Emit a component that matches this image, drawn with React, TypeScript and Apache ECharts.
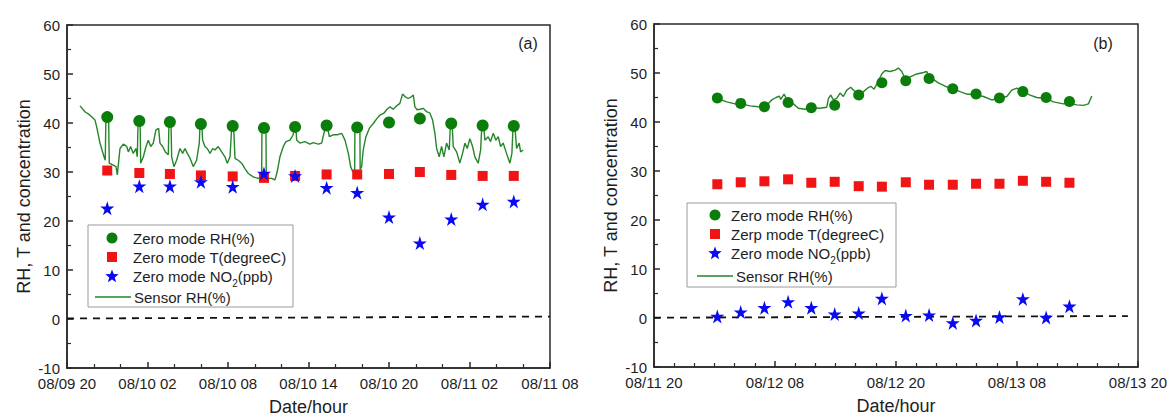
import React, { useEffect, useRef } from "react";
import * as echarts from "echarts";

// ---------- Panel (a): hours since 08/09 20:00 ----------
const leftXLabels = ["08/09 20", "08/10 02", "08/10 08", "08/10 14", "08/10 20", "08/11 02", "08/11 08"];
const leftHours = [3.0, 5.39, 7.67, 9.98, 12.35, 14.68, 17.0, 19.35, 21.63, 24.0, 26.3, 28.64, 30.98, 33.3];
const leftRH = [41.2, 40.4, 40.2, 39.8, 39.4, 39.0, 39.2, 39.5, 39.1, 40.1, 40.9, 39.9, 39.5, 39.4];
const leftT = [30.3, 29.8, 29.6, 29.3, 29.1, 28.8, 29.2, 29.5, 29.5, 29.6, 30.0, 29.4, 29.2, 29.2];
const leftNO2 = [22.6, 27.1, 27.1, 28.0, 27.0, 29.7, 29.2, 26.8, 25.8, 20.8, 15.5, 20.4, 23.4, 24.0];
const leftSensor = [
  [0.97, 43.5], [1.34, 42.3], [1.71, 41.6], [2.09, 40.6], [2.21, 39.2], [2.46, 35.9], [2.76, 33.1], [2.85, 32.4],
  [2.9, 41.2], [3.1, 41.2], [3.15, 31.8],
  [3.45, 31.4], [3.65, 31.1], [3.75, 29.4], [3.95, 34.8], [4.2, 35.7], [4.45, 35.2], [4.57, 34.1], [4.74, 35.2], [4.94, 33.8], [5.14, 34.8], [5.24, 33.1],
  [5.3, 40.4], [5.45, 40.4], [5.49, 31.8],
  [5.69, 33.1], [5.89, 35.2], [6.06, 36.5], [6.24, 35.2], [6.43, 35.9], [6.63, 38.6], [6.83, 38.9], [6.93, 35.9], [7.13, 35.2], [7.33, 34.1], [7.55, 33.5],
  [7.6, 40.2], [7.75, 40.2], [7.8, 33.1],
  [7.97, 31.1], [8.17, 32.4], [8.42, 34.8], [8.62, 33.8], [8.79, 34.8], [8.97, 33.8], [9.17, 32.8], [9.41, 31.1], [9.66, 32.4], [9.86, 35.9],
  [9.92, 39.8], [10.05, 39.8], [10.11, 36.5],
  [10.28, 35.2], [10.45, 34.8], [10.66, 33.8], [10.86, 34.8], [11.03, 34.5], [11.27, 35.2], [11.53, 34.1], [11.77, 33.1], [11.95, 31.8], [12.15, 33.1],
  [12.28, 39.4], [12.42, 39.4], [12.52, 32.8],
  [12.76, 32.4], [13.02, 31.8], [13.26, 30.7], [13.51, 29.7], [13.88, 29.0], [14.25, 28.7], [14.51, 29.0],
  [14.53, 39.0], [14.83, 39.0], [14.85, 28.7],
  [15.25, 28.7], [15.5, 28.4], [15.67, 30.1], [15.87, 33.1], [16.12, 35.2], [16.32, 36.2], [16.62, 36.5], [16.86, 37.6],
  [16.95, 39.2], [17.05, 39.2], [17.12, 36.5],
  [17.36, 35.9], [17.73, 36.2], [18.1, 35.7], [18.35, 36.0], [18.73, 35.7], [18.98, 35.9], [19.15, 37.9],
  [19.28, 39.5], [19.4, 39.5], [19.55, 37.2],
  [19.84, 37.6], [20.14, 37.6], [20.47, 37.9], [20.72, 36.5], [20.97, 33.8], [21.14, 31.1], [21.29, 30.1],
  [21.44, 30.0], [21.46, 39.1], [21.83, 39.1], [21.85, 30.5],
  [21.96, 31.1], [22.08, 34.5], [22.28, 37.2], [22.53, 38.9], [22.83, 39.9], [23.12, 41.0], [23.32, 41.6], [23.62, 42.0], [23.82, 42.7],
  [24.07, 43.3], [24.32, 42.8], [24.57, 43.5], [24.81, 44.0], [25.01, 45.9], [25.19, 45.4], [25.43, 45.0], [25.69, 45.4], [25.81, 45.7],
  [25.93, 43.3], [26.1, 42.7], [26.3, 42.8], [26.55, 43.0], [26.8, 42.3], [27.05, 42.0], [27.25, 40.6], [27.42, 37.9], [27.55, 34.8],
  [27.74, 33.1], [27.92, 35.2], [28.09, 33.1], [28.29, 35.9], [28.49, 34.5],
  [28.58, 39.9], [28.7, 39.9], [28.79, 35.2],
  [29.04, 34.1], [29.28, 31.8], [29.48, 33.8], [29.66, 35.9], [29.83, 34.8], [30.03, 36.8], [30.23, 35.2], [30.4, 33.1], [30.65, 31.8], [30.83, 34.5],
  [30.92, 39.5], [31.05, 39.5], [31.15, 36.5],
  [31.39, 37.2], [31.57, 36.2], [31.77, 37.9], [31.97, 36.5], [32.14, 37.2], [32.32, 35.2], [32.51, 35.9], [32.76, 33.8], [33.01, 31.8], [33.16, 33.8],
  [33.25, 39.4], [33.38, 39.4], [33.51, 34.8],
  [33.7, 35.9], [33.81, 34.1], [34.0, 34.5],
];
const leftZero = [[0, 0.1], [36, 0.5]];

// ---------- Panel (b): hours since 08/11 20:00 ----------
const rightXLabels = ["08/11 20", "08/12 08", "08/12 20", "08/13 08", "08/13 20"];
const rightHours = [6.28, 8.6, 10.95, 13.3, 15.6, 17.92, 20.3, 22.6, 24.97, 27.28, 29.63, 31.94, 34.26, 36.58, 38.89, 41.2];
const rightRH = [44.9, 43.8, 43.1, 44.0, 42.9, 43.4, 45.5, 48.0, 48.4, 48.9, 46.8, 45.7, 44.9, 46.2, 45.0, 44.2];
const rightT = [27.3, 27.7, 27.9, 28.3, 27.6, 27.8, 26.9, 26.8, 27.7, 27.2, 27.2, 27.4, 27.4, 28.0, 27.8, 27.6];
const rightNO2 = [0.3, 1.2, 2.1, 3.3, 2.1, 0.8, 1.0, 4.0, 0.5, 0.6, -1.0, -0.5, 0.2, 3.9, 0.1, 2.4];
const rightSensor = [
  [6.28, 44.8], [7.21, 44.1], [8.04, 43.7], [8.66, 43.7], [9.52, 43.3], [10.35, 43.1], [11.0, 43.0], [11.67, 44.5], [12.1, 45.0],
  [12.43, 45.3], [12.57, 44.6], [12.9, 45.7], [13.32, 44.0], [13.82, 43.7], [14.32, 42.8], [14.98, 42.6], [15.6, 42.9], [16.47, 42.8],
  [17.13, 43.0], [17.3, 44.8], [17.53, 45.5], [17.79, 44.5], [18.12, 44.8], [18.45, 45.9], [18.78, 45.2], [19.12, 46.5], [19.51, 47.1],
  [19.84, 46.4], [20.4, 45.2], [20.77, 46.2], [21.17, 46.9], [21.5, 47.3], [21.83, 46.7], [22.15, 48.0], [22.59, 49.8], [22.92, 50.5],
  [23.41, 50.3], [23.91, 50.6], [24.24, 51.0], [24.57, 50.3], [24.97, 48.6], [25.4, 49.2], [26.06, 49.8], [26.72, 50.1], [27.05, 50.3],
  [27.28, 49.0], [27.7, 48.7], [28.2, 48.0], [28.87, 47.3], [29.63, 46.8], [30.36, 46.2], [31.02, 45.7], [31.94, 45.5], [32.67, 45.2],
  [33.5, 44.5], [34.26, 44.9], [34.99, 45.2], [35.48, 46.5], [35.98, 46.9], [36.58, 46.2], [37.3, 45.5], [37.96, 45.0], [38.89, 44.8],
  [39.61, 44.1], [40.6, 43.7], [41.2, 43.8], [41.93, 43.5], [42.59, 43.4], [43.08, 43.7], [43.42, 45.3],
];
const rightZero = [[0, 0.06], [47, 0.4]];

const legendLeft = ["Zero mode RH(%)", "Zero mode T(degreeC)", "Zero mode NO", "Sensor RH(%)"];
const legendRight = ["Zero mode RH(%)", "Zerp mode T(degreeC)", "Zero mode NO", "Sensor RH(%)"];

const STAR = "path://M50,0 L61.2,34.5 L97.6,34.5 L68.2,55.9 L79.4,90.5 L50,69.1 L20.6,90.5 L31.8,55.9 L2.4,34.5 L38.8,34.5 Z";
const GREEN = "#0a7d0a";
const LINEGREEN = "#26852a";
const RED = "#f01414";
const BLUE = "#0a0af2";
const AXIS = "#2a2a2a";
const TEXT = "#1e1e1e";
const FONT = "'Liberation Sans', Arial, sans-serif";

function starPoints(cx: number, cy: number, r: number) {
  const pts: number[][] = [];
  for (let i = 0; i < 10; i++) {
    const rr = i % 2 === 0 ? r : r * 0.42;
    const a = -Math.PI / 2 + (i * Math.PI) / 5;
    pts.push([cx + rr * Math.cos(a), cy + rr * Math.sin(a)]);
  }
  return pts;
}

function legendGraphic(box: number[], markerX: number, textX: number, rows: number[], lineX: number[], labels: string[]) {
  const [bx, by, bw, bh] = box;
  const textStyle = { fontSize: 15, fill: TEXT, fontFamily: FONT, verticalAlign: "middle", align: "left" };
  return [
    { type: "rect", shape: { x: bx, y: by, width: bw, height: bh }, style: { fill: "#fff", stroke: "#9a9a9a", lineWidth: 1 }, z: 10 },
    { type: "circle", shape: { cx: markerX, cy: rows[0], r: 5.5 }, style: { fill: GREEN }, z: 11 },
    { type: "rect", shape: { x: markerX - 5, y: rows[1] - 5, width: 10, height: 10 }, style: { fill: RED }, z: 11 },
    { type: "polygon", shape: { points: starPoints(markerX, rows[2] + 0.5, 7) }, style: { fill: BLUE }, z: 11 },
    { type: "line", shape: { x1: lineX[0], y1: rows[3], x2: lineX[1], y2: rows[3] }, style: { stroke: LINEGREEN, lineWidth: 1.5 }, z: 11 },
    { type: "text", x: textX, y: rows[0], style: { text: labels[0], ...textStyle }, z: 11 },
    { type: "text", x: textX, y: rows[1], style: { text: labels[1], ...textStyle }, z: 11 },
    {
      type: "text", x: textX, y: rows[2],
      style: {
        text: "{a|" + labels[2] + "}{s|2}{a|(ppb)}",
        fontFamily: FONT, verticalAlign: "middle", align: "left",
        rich: {
          a: { fontSize: 15, fill: TEXT, fontFamily: FONT, lineHeight: 18, verticalAlign: "middle" },
          s: { fontSize: 10, fill: TEXT, fontFamily: FONT, lineHeight: 10, verticalAlign: "bottom", padding: [0, 0, -3, 0] },
        },
      },
      z: 11,
    },
    { type: "text", x: lineX[1] + 3, y: rows[3], style: { text: labels[3], ...textStyle }, z: 11 },
  ];
}

function xAxisCfg(gridIndex: number, max: number, interval: number, split: number, labels: string[]) {
  return {
    gridIndex, type: "value", min: 0, max, interval,
    axisLine: { show: true, onZero: false, lineStyle: { color: AXIS, width: 1.5 } },
    axisTick: { show: true, inside: true, length: 6, lineStyle: { color: AXIS, width: 1.5 } },
    minorTick: { show: true, splitNumber: split, length: 4, lineStyle: { color: AXIS, width: 1.2 } },
    splitLine: { show: false }, minorSplitLine: { show: false },
    axisLabel: {
      fontSize: 15, color: TEXT, fontFamily: FONT, margin: 8, showMinLabel: true, showMaxLabel: true,
      formatter: (v: number) => labels[Math.round(v / interval)] ?? "",
    },
    name: "Date/hour", nameLocation: "middle", nameGap: 30,
    nameTextStyle: { fontSize: 18, color: TEXT, fontFamily: FONT },
  };
}

function yAxisCfg(gridIndex: number, nameGap: number) {
  return {
    gridIndex, type: "value", min: -10, max: 60, interval: 10,
    axisLine: { show: true, onZero: false, lineStyle: { color: AXIS, width: 1.5 } },
    axisTick: { show: true, inside: true, length: 6, lineStyle: { color: AXIS, width: 1.5 } },
    minorTick: { show: true, splitNumber: 2, length: 4, lineStyle: { color: AXIS, width: 1.2 } },
    splitLine: { show: false }, minorSplitLine: { show: false },
    axisLabel: { fontSize: 15, color: TEXT, fontFamily: FONT, margin: 7, showMinLabel: true, showMaxLabel: true },
    name: "RH, T and concentration", nameLocation: "middle", nameGap,
    nameTextStyle: { fontSize: 18, color: TEXT, fontFamily: FONT },
  };
}

function panelSeries(idx: number, hours: number[], rh: number[], t: number[], no2: number[], sensor: number[][], zero: number[][], circleSize: number) {
  const pair = (vals: number[]) => hours.map((h, i) => [h, vals[i]]);
  return [
    {
      type: "line", xAxisIndex: idx, yAxisIndex: idx, data: zero, showSymbol: false, silent: true,
      lineStyle: { color: "#111", width: 1.8, type: [7, 6] }, z: 2,
    },
    {
      type: "line", xAxisIndex: idx, yAxisIndex: idx, data: sensor, showSymbol: false,
      lineStyle: { color: LINEGREEN, width: 1.4 }, z: 3,
    },
    { type: "scatter", xAxisIndex: idx, yAxisIndex: idx, data: pair(rh), symbol: "circle", symbolSize: circleSize, itemStyle: { color: GREEN, opacity: 1 }, z: 4 },
    { type: "scatter", xAxisIndex: idx, yAxisIndex: idx, data: pair(t), symbol: "rect", symbolSize: 10, itemStyle: { color: RED, opacity: 1 }, z: 5 },
    { type: "scatter", xAxisIndex: idx, yAxisIndex: idx, data: pair(no2), symbol: STAR, symbolSize: 14, itemStyle: { color: BLUE, opacity: 1 }, z: 6 },
  ];
}

export default function App() {
  const ref = useRef<HTMLDivElement>(null);
  useEffect(() => {
    if (!ref.current) return;
    const chart = echarts.init(ref.current, undefined, { renderer: "svg" });
    chart.setOption({
      animation: false,
      backgroundColor: "#fff",
      textStyle: { fontFamily: FONT },
      grid: [
        { left: 67, top: 25, width: 483, height: 343, outerBoundsMode: "none", containLabel: false, show: true, borderColor: AXIS, borderWidth: 1.5, backgroundColor: "transparent" },
        { left: 654, top: 24, width: 484, height: 343, outerBoundsMode: "none", containLabel: false, show: true, borderColor: AXIS, borderWidth: 1.5, backgroundColor: "transparent" },
      ],
      xAxis: [xAxisCfg(0, 36, 6, 3, leftXLabels), xAxisCfg(1, 48, 12, 6, rightXLabels)],
      yAxis: [yAxisCfg(0, 34), yAxisCfg(1, 34)],
      series: [
        ...panelSeries(0, leftHours, leftRH, leftT, leftNO2, leftSensor, leftZero, 12),
        ...panelSeries(1, rightHours, rightRH, rightT, rightNO2, rightSensor, rightZero, 11),
      ],
      graphic: [
        { type: "text", x: 528, y: 43, style: { text: "(a)", fontSize: 16, fill: TEXT, fontFamily: FONT, align: "center", verticalAlign: "middle" } },
        { type: "text", x: 1103, y: 43, style: { text: "(b)", fontSize: 16, fill: TEXT, fontFamily: FONT, align: "center", verticalAlign: "middle" } },
        ...legendGraphic([88, 225, 205, 82], 112, 133, [238, 257, 276, 297], [95, 131], legendLeft),
        ...legendGraphic([687, 203, 209, 84], 715, 731, [215, 234, 253, 276], [697, 733], legendRight),
      ],
    });
    return () => chart.dispose();
  }, []);
  return <div ref={ref} style={{ position: "absolute", left: 0, top: 0, width: 1169, height: 418 }} />;
}
